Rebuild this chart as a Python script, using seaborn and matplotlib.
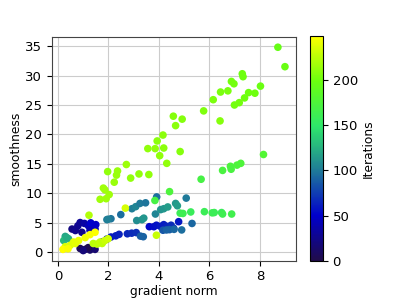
import matplotlib
matplotlib.use("Agg")
import matplotlib.pyplot as plt
import seaborn as sns
import pandas as pd
import numpy as np
from matplotlib.colors import LinearSegmentedColormap, Normalize

# points: (gradient norm, smoothness, iteration)
grad_norm = [
    # dark navy start
    0.88, 1.08, 1.27, 1.47, 1.20, 1.00, 0.95,
    # blue cluster
    0.88, 0.79, 1.05, 1.21, 1.40, 0.56, 0.69, 1.27, 1.47, 1.30, 1.50,
    # blue lower line
    1.77, 1.94, 2.10, 2.29, 2.42, 2.75, 2.92, 3.10, 3.62, 3.80, 3.90, 4.06,
    4.19, 4.32, 4.48, 4.58, 4.78,
    # steel blue
    3.27, 3.38, 4.16, 4.42, 5.31, 4.30, 4.90, 4.60,
    # teal
    1.94, 2.10, 2.49, 2.93, 3.08, 3.25, 3.47, 3.91, 3.12, 3.33, 3.40, 3.86,
    4.07, 4.19, 4.35, 4.66, 4.73, 5.08, 1.98,
    0.29, 0.42, 0.23, 0.35,
    # green lower line
    4.84, 4.95, 5.26, 5.80, 6.11, 6.19, 6.48, 6.52, 6.88, 3.84, 4.42,
    # green 14-15 line
    5.67, 6.52, 6.83, 6.86, 7.09, 7.24, 8.14,
    # lime upper line
    8.71, 8.99, 7.30, 7.33, 6.87, 6.97, 8.02, 6.73, 6.44, 6.15, 7.55, 7.80,
    7.39, 7.18, 6.99, 5.77, 6.42, 4.57, 4.92, 4.66, 4.16, 3.93, 3.56, 3.85,
    4.19, 4.03, 4.84, 4.31, 2.71, 1.97, 2.36, 2.32, 2.23, 2.88, 3.21, 3.60,
    1.80, 1.86, 2.03, 1.67, 1.91,
    # yellow-green
    1.23, 2.67, 3.90, 1.40, 1.55, 1.67, 1.75, 1.86, 1.99,
    # yellow
    0.62, 0.82, 1.08, 1.27, 1.47, 0.29, 0.49, 0.69, 0.20, 0.40,
]
smoothness = [
    0.65, 0.50, 0.40, 0.50, 0.80, 0.30, 3.40,
    5.05, 4.50, 4.90, 4.50, 4.50, 3.95, 3.70, 3.70, 3.95, 5.00, 4.70,
    1.80, 2.25, 2.60, 2.80, 3.05, 3.15, 3.25, 3.35, 4.35, 4.35, 4.60, 4.40,
    4.70, 4.40, 4.60, 4.10, 5.20,
    2.75, 2.65, 3.75, 3.85, 4.90, 3.80, 3.80, 3.90,
    5.55, 5.70, 6.40, 7.40, 7.75, 8.30, 8.40, 9.40, 5.40, 5.55, 5.80, 6.50,
    7.25, 7.40, 7.70, 8.30, 7.90, 9.20, 5.60,
    2.70, 2.30, 2.00, 2.50,
    6.65, 6.60, 6.85, 6.90, 6.70, 6.75, 6.75, 6.50, 6.50, 8.80, 10.30,
    12.40, 13.90, 14.60, 14.10, 14.80, 15.10, 16.60,
    34.8, 31.5, 30.3, 29.8, 29.0, 28.6, 28.2, 27.4, 27.2, 25.9, 27.1, 27.0,
    26.2, 25.4, 25.0, 24.0, 22.3, 23.1, 22.6, 21.5, 19.9, 18.9, 17.6, 17.6,
    17.7, 16.4, 17.1, 15.1, 14.9, 13.7, 13.8, 13.1, 11.9, 12.6, 13.3, 13.2,
    10.9, 10.6, 9.8, 9.0, 9.1,
    6.30, 7.50, 2.90, 1.50, 1.40, 1.75, 1.50, 2.00, 2.30,
    1.75, 2.00, 2.50, 3.00, 3.40, 0.95, 1.20, 1.50, 0.50, 0.60,
]
iteration = [
    5, 8, 12, 15, 3, 18, 25,
    30, 28, 35, 40, 45, 22, 26, 38, 42, 50, 48,
    55, 58, 60, 62, 64, 66, 68, 70, 52, 55, 57, 60,
    62, 65, 68, 70, 60,
    88, 90, 85, 88, 92, 90, 95, 92,
    100, 98, 95, 102, 105, 100, 98, 95, 108, 110, 112, 105,
    110, 112, 115, 113, 115, 100, 103,
    120, 125, 128, 122,
    160, 162, 158, 160, 162, 160, 158, 163, 165, 170, 175,
    170, 172, 174, 172, 175, 176, 178,
    195, 197, 200, 200, 202, 202, 198, 204, 204, 205, 200, 200,
    200, 202, 202, 206, 208, 208, 208, 210, 210, 210, 212, 212,
    210, 212, 208, 212, 215, 212, 214, 214, 214, 212, 212, 212,
    216, 216, 216, 216, 216,
    222, 235, 230, 225, 226, 228, 227, 230, 232,
    240, 242, 244, 246, 248, 236, 238, 240, 249, 247,
]

df = pd.DataFrame({"gradient norm": grad_norm, "smoothness": smoothness,
                   "Iterations": iteration})

cmap = LinearSegmentedColormap.from_list(
    "iters", ["#200c4a", "#0000cc", "#1f7a99", "#2ee86a", "#6bff0f", "#ffff00"])
norm = Normalize(vmin=0, vmax=249)

plt.rcParams["font.size"] = 8.8
plt.rcParams["xtick.labelsize"] = 9.5
plt.rcParams["ytick.labelsize"] = 9.5

fig = plt.figure(figsize=(3.99, 2.99), dpi=100)
ax = fig.add_axes([0.130, 0.128, 0.612, 0.748])
cax = fig.add_axes([0.777, 0.128, 0.032, 0.752])

sns.scatterplot(data=df, x="gradient norm", y="smoothness", hue="Iterations",
                palette=cmap, hue_norm=norm, s=30, linewidth=0, legend=False,
                ax=ax, zorder=3)
ax.grid(True, color="#cccccc", linewidth=0.8)
ax.set_axisbelow(True)
ax.set_xticks([0, 2, 4, 6, 8])
ax.set_yticks([0, 5, 10, 15, 20, 25, 30, 35])
ax.set_xlabel("gradient norm", labelpad=1)
ax.set_ylabel("smoothness", labelpad=2)
for sp in ax.spines.values():
    sp.set_color("#444444")

sm = plt.cm.ScalarMappable(cmap=cmap, norm=norm)
cb = fig.colorbar(sm, cax=cax)
cb.set_label("Iterations", labelpad=3)
cb.set_ticks([0, 50, 100, 150, 200])

fig.savefig("out.png", dpi=100)
